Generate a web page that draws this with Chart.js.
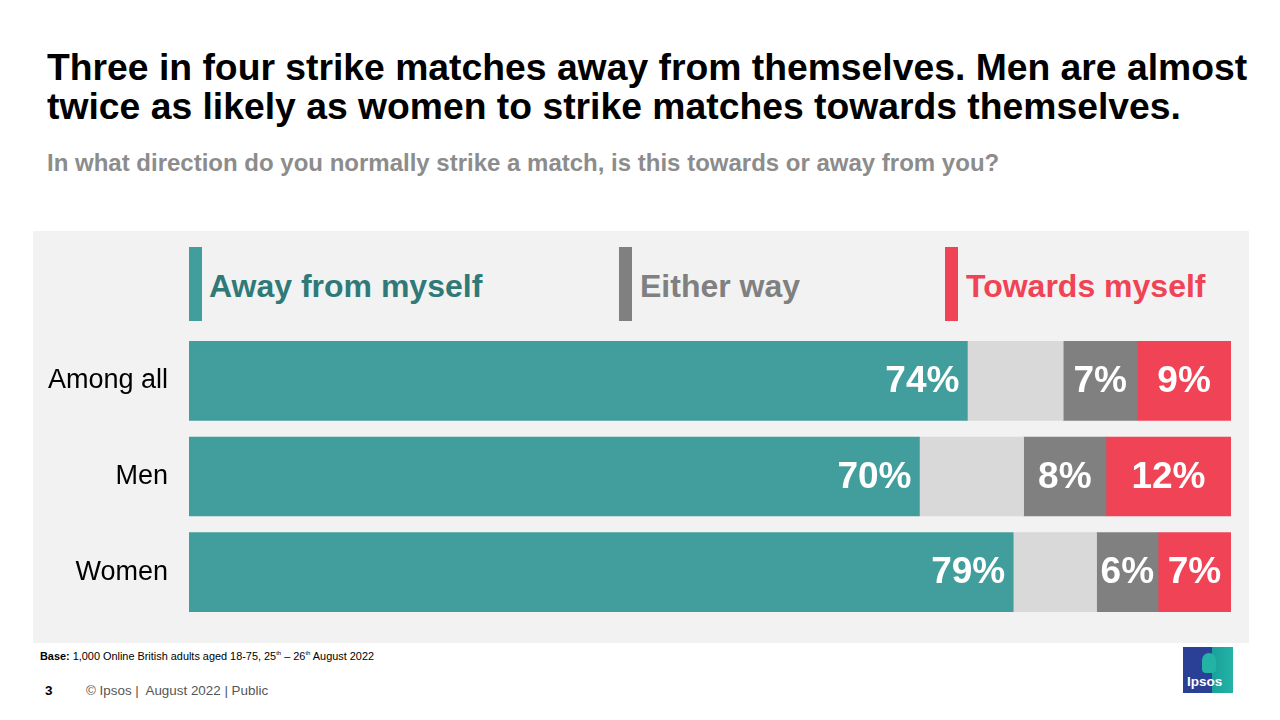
<!DOCTYPE html>
<html>
<head>
<meta charset="utf-8">
<script src="https://cdn.jsdelivr.net/npm/chart.js@4"></script>
<style>
  html, body { margin: 0; padding: 0; background: #fff; }
  body { width: 1280px; height: 720px; position: relative; overflow: hidden;
         font-family: Arial, "Liberation Sans", sans-serif; }
  .abs { position: absolute; white-space: nowrap; }
  #title { left: 47px; top: 48px; font-size: 37.3px; font-weight: bold; line-height: 39px; color: #000; }
  #subtitle { left: 47px; top: 149px; font-size: 24px; font-weight: bold; color: #8c8c8c; }
  #panel { left: 33px; top: 231px; width: 1216px; height: 412px; background: #f2f2f2; }
  .leg-bar { position: absolute; top: 247px; width: 13px; height: 74px; }
  .leg-txt { position: absolute; top: 268px; font-size: 32px; font-weight: bold; line-height: 36px; }
  #chartbox { left: 33px; top: 333px; width: 1216px; height: 287px; }
  #base { left: 40px; top: 650px; font-size: 10.9px; color: #000; }
  #base sup { font-size: 6px; }
  #pagenum { left: 45px; top: 683px; font-size: 13.5px; font-weight: bold; }
  #footer { left: 86px; top: 683px; font-size: 13.4px; color: #555; }
  #logo { left: 1183px; top: 647px; width: 50px; height: 46px;
          background: linear-gradient(90deg, #2a3f96 0%, #2a3f96 58%, #1aa09a 58%, #23b3a6 100%); }
  #logo span { position: absolute; left: 4px; bottom: 4px; color: #fff; font-weight: bold; font-size: 13.5px; }
  #logo i { position: absolute; left: 19px; top: 6px; width: 14px; height: 20px; border-radius: 7px 7px 4px 4px; background: #23b3a6; }
</style>
</head>
<body>
<div id="title" class="abs">Three in four strike matches away from themselves. Men are almost<br>twice as likely as women to strike matches towards themselves.</div>
<div id="subtitle" class="abs">In what direction do you normally strike a match, is this towards or away from you?</div>
<div id="panel" class="abs"></div>

<div class="leg-bar" style="left:189px;background:#429e9d"></div>
<div class="leg-txt" style="left:209px;color:#2f7a78">Away from myself</div>
<div class="leg-bar" style="left:619px;background:#808080"></div>
<div class="leg-txt" style="left:640px;color:#808080">Either way</div>
<div class="leg-bar" style="left:945px;background:#f04355"></div>
<div class="leg-txt" style="left:966px;color:#f04355">Towards myself</div>

<div id="chartbox" class="abs"><canvas id="c"></canvas></div>

<div id="base" class="abs"><b>Base:</b> 1,000 Online British adults aged 18-75, 25<sup>th</sup> – 26<sup>th</sup> August 2022</div>
<div id="pagenum" class="abs">3</div>
<div id="footer" class="abs">© Ipsos |&nbsp; August 2022 | Public</div>
<div id="logo" class="abs"><i></i><span>Ipsos</span></div>

<script>
  // Values (share of respondents, %)
  var categories = ["Among all", "Men", "Women"];
  var awayValues = [74.7, 70.1, 79.1];
  var otherValues = [9.2, 10.0, 8.0];   // unlabelled light-grey remainder
  var eitherValues = [7.1, 7.9, 5.9];
  var towardsValues = [9.0, 12.0, 7.0];
  var awayLabels = ["74%", "70%", "79%"];
  var eitherLabels = ["7%", "8%", "6%"];
  var towardsLabels = ["9%", "12%", "7%"];

  var COLORS = { away: "#429e9d", other: "#d9d9d9", either: "#808080", towards: "#f04355" };

  // segLabels draws the white % figures on each bar: right-aligned inside the
  // teal segment, centred in the grey and red ones.
  var segLabels = {
    id: "segLabels",
    afterDatasetsDraw: function (chart) {
      var ctx = chart.ctx;
      ctx.save();
      ctx.fillStyle = "#fff";
      ctx.font = "bold 37px Arial, 'Liberation Sans', sans-serif";
      ctx.textBaseline = "middle";
      chart.data.datasets.forEach(function (ds, di) {
        if (!ds.valueLabels) return;
        chart.getDatasetMeta(di).data.forEach(function (bar, i) {
          var p = bar.getProps(["x", "y", "base"], true);
          var txt = ds.valueLabels[i];
          if (ds.labelAlign === "end") {
            ctx.textAlign = "right";
            ctx.fillText(txt, p.x - 8, p.y + 1);
          } else {
            ctx.textAlign = "center";
            ctx.fillText(txt, (p.x + p.base) / 2, p.y + 1);
          }
        });
      });
      ctx.restore();
    }
  };

  new Chart(document.getElementById("c"), {
    type: "bar",
    data: {
      labels: categories,
      datasets: [
        { label: "Away from myself", data: awayValues, backgroundColor: COLORS.away, valueLabels: awayLabels, labelAlign: "end" },
        { label: "Other", data: otherValues, backgroundColor: COLORS.other },
        { label: "Either way", data: eitherValues, backgroundColor: COLORS.either, valueLabels: eitherLabels },
        { label: "Towards myself", data: towardsValues, backgroundColor: COLORS.towards, valueLabels: towardsLabels }
      ]
    },
    options: {
      indexAxis: "y",
      responsive: true,
      maintainAspectRatio: false,
      animation: false,
      layout: { padding: { left: 0, right: 18, top: 0, bottom: 0 } },
      datasets: { bar: { barThickness: 79, borderWidth: 0 } },
      scales: {
        x: { stacked: true, min: 0, max: 100, display: false },
        y: {
          stacked: true,
          grid: { display: false },
          border: { display: false },
          ticks: { color: "#000", font: { size: 27, family: "Arial, 'Liberation Sans', sans-serif" }, padding: 13 },
          // fixed gutter for the category names; drop the vertical padding
          // Chart.js adds for tick padding so the bars fill the full height
          afterFit: function (axis) {
            axis.width = 156;
            axis.paddingTop = 0;
            axis.paddingBottom = 0;
          }
        }
      },
      plugins: { legend: { display: false }, tooltip: { enabled: false } }
    },
    plugins: [segLabels]
  });
</script>
</body>
</html>
